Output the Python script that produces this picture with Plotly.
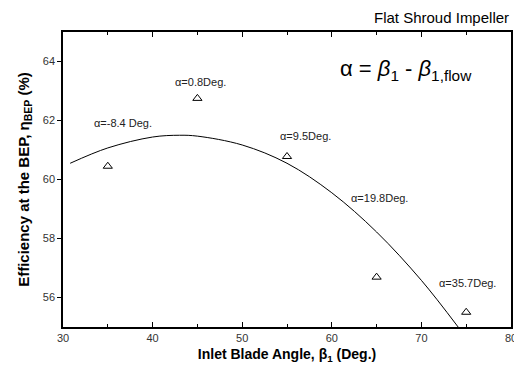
import plotly.graph_objects as go

# Measured points (inlet blade angle, efficiency at BEP)
beta_pts = [35, 45, 55, 65, 75]
eff_pts = [60.45, 62.75, 60.78, 56.69, 55.5]

# Fitted curve
beta_curve = [30.8, 35, 40, 43, 45, 50, 55, 60, 65, 70, 74.1]
eff_curve = [60.55, 61.07, 61.44, 61.50, 61.47, 61.17, 60.55, 59.55, 58.22, 56.58, 55.0]

# Incidence labels
alpha_labels = ["α=-8.4 Deg.", "α=0.8Deg.", "α=9.5Deg.", "α=19.8Deg.", "α=35.7Deg."]
alpha_x = [36.7, 45.3, 57.1, 65.3, 75.1]
alpha_y = [61.9, 63.29, 61.46, 59.36, 56.5]

x_ticks = [30, 40, 50, 60, 70, 80]
y_ticks = [56, 58, 60, 62, 64]

font_main = "Liberation Sans, Arial, sans-serif"

fig = go.Figure()
fig.add_trace(go.Scatter(
    x=beta_curve, y=eff_curve, mode="lines",
    line=dict(color="black", width=1, shape="spline"),
    showlegend=False))
fig.add_trace(go.Scatter(
    x=beta_pts, y=eff_pts, mode="markers",
    marker=dict(symbol="triangle-up-open", size=8, color="black", line=dict(width=1)),
    showlegend=False))

for t, xx, yy in zip(alpha_labels, alpha_x, alpha_y):
    fig.add_annotation(x=xx, y=yy, text=t, showarrow=False, xanchor="center",
                       font=dict(size=11, color="#222", family=font_main))

fig.add_annotation(x=1.0, y=1.0, xref="paper", yref="paper", yshift=4,
                   text="Flat Shroud Impeller", showarrow=False,
                   xanchor="right", yanchor="bottom",
                   font=dict(size=15, color="black", family=font_main))

fig.add_annotation(x=0.766, y=0.87, xref="paper", yref="paper",
                   text="α = <i>β</i><sub>1</sub> - <i>β</i><sub>1,flow</sub>", showarrow=False,
                   xanchor="center", yanchor="middle",
                   font=dict(size=22, color="black", family=font_main))

fig.update_layout(
    width=514, height=364,
    margin=dict(l=55, r=11, t=24, b=45),
    plot_bgcolor="white", paper_bgcolor="white",
    font=dict(family=font_main, color="black"),
    xaxis=dict(range=[30, 80], tickvals=x_ticks, ticks="inside", ticklen=5,
               tickcolor="black", showline=True, linecolor="black", linewidth=1.5,
               mirror="ticks", showgrid=False, zeroline=False, automargin=False,
               tickfont=dict(size=11, color="#333"),
               minor=dict(ticks="inside", ticklen=3, dtick=5, tickcolor="black"),
               title=dict(text="Inlet Blade Angle, β<sub>1</sub> (Deg.)",
                          font=dict(size=14, weight="bold"), standoff=6)),
    yaxis=dict(range=[55, 65], tickvals=y_ticks, ticks="outside", ticklen=4,
               tickcolor="black", showline=True, linecolor="black", linewidth=1.5,
               mirror=True, showgrid=False, zeroline=False, automargin=False,
               tickfont=dict(size=11, color="#333"),
               title=dict(text="Efficiency at the BEP, η<sub>BEP</sub> (%)",
                          font=dict(size=15, weight="bold"), standoff=10)),
)

fig.write_html("out.html")
